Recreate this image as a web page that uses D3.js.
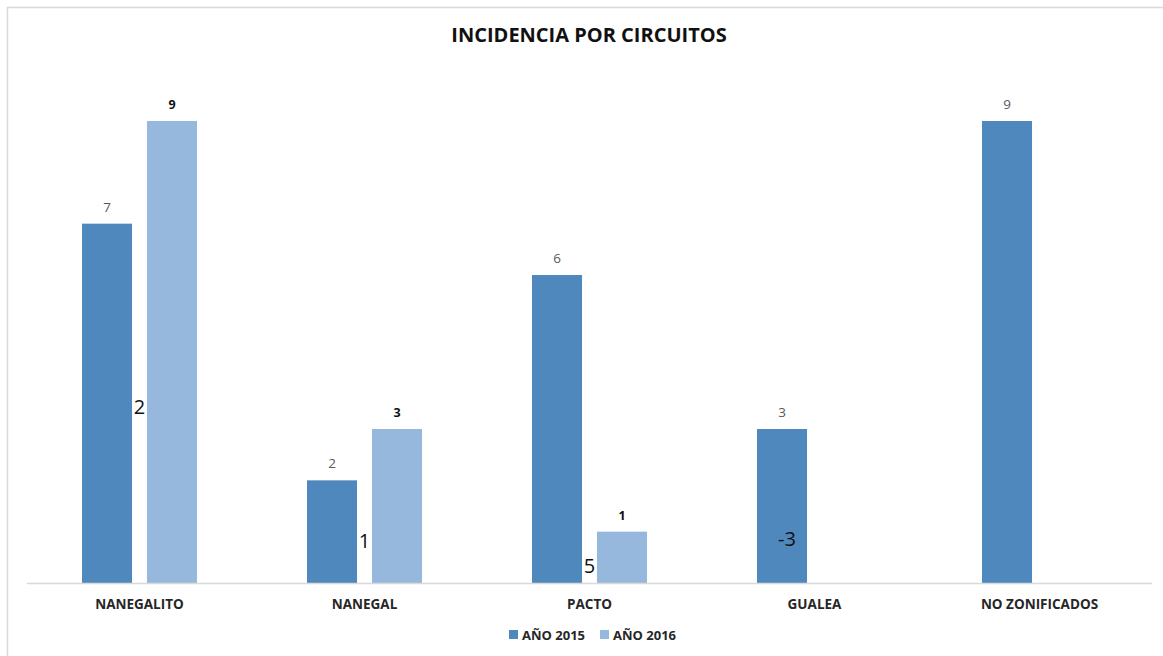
<!DOCTYPE html>
<html>
<head>
<meta charset="utf-8">
<script src="https://cdn.jsdelivr.net/npm/d3@7"></script>
<style>
  body { margin: 0; background: #fff; }
  svg { display: block; font-family: "Open Sans", "Liberation Sans", sans-serif; }
</style>
</head>
<body>
<svg id="chart"></svg>
<script>
// data
var categories = ['NANEGALITO', 'NANEGAL', 'PACTO', 'GUALEA', 'NO ZONIFICADOS'];
var series = ['AÑO 2015', 'AÑO 2016'];
var values2015 = [7, 2, 6, 3, 9];
var values2016 = [9, 3, 1, null, null];
// stray text boxes left on the chart (category, series, height, text)
var strayCats = ['NANEGALITO', 'NANEGAL', 'PACTO', 'GUALEA'];
var straySeries = [null, null, null, 'AÑO 2015'];
var strayValues = [3.3, 0.68, 0.2, 0.72];
var strayTexts = ['2', '1', '5', '-3'];

var W = 1163, H = 656;
var margin = {top: 121, right: 11, bottom: 73, left: 27};
var width = W - margin.left - margin.right,
    height = H - margin.top - margin.bottom;

var colors = {'AÑO 2015': '#4f88bc', 'AÑO 2016': '#97b8dd'};

var svg = d3.select('#chart').attr('width', W).attr('height', H);

// chart border
svg.append('path')
    .attr('d', 'M7.5,' + H + 'V7.5H' + W)
    .attr('fill', 'none')
    .attr('stroke', '#d9d9d9')
    .attr('stroke-width', 1.5);

svg.append('text')
    .attr('x', 589).attr('y', 42)
    .attr('text-anchor', 'middle')
    .attr('font-size', 20).attr('font-weight', 'bold')
    .attr('fill', '#111')
    .text('INCIDENCIA POR CIRCUITOS');

var g = svg.append('g').attr('transform', 'translate(' + margin.left + ',' + margin.top + ')');

var x = d3.scaleBand().domain(categories).range([0, width]).paddingInner(0).paddingOuter(0);
var xs = d3.scaleBand().domain(series).range([x.bandwidth() / 2 - 57.5, x.bandwidth() / 2 + 57.5]).paddingInner(0.23);
var y = d3.scaleLinear().domain([0, 9]).range([height, 0]);

var rows = [];
categories.forEach(function(c, i) {
  rows.push({cat: c, s: 'AÑO 2015', v: values2015[i]});
  rows.push({cat: c, s: 'AÑO 2016', v: values2016[i]});
});
rows = rows.filter(function(d) { return d.v != null; });

g.selectAll('rect.bar')
    .data(rows).enter().append('rect')
    .attr('class', 'bar')
    .attr('x', function(d) { return x(d.cat) + xs(d.s); })
    .attr('y', function(d) { return y(d.v); })
    .attr('width', xs.bandwidth())
    .attr('height', function(d) { return y(0) - y(d.v); })
    .attr('fill', function(d) { return colors[d.s]; });

// value labels
g.selectAll('text.lbl')
    .data(rows).enter().append('text')
    .attr('class', 'lbl')
    .attr('x', function(d) { return x(d.cat) + xs(d.s) + xs.bandwidth() / 2; })
    .attr('y', function(d) { return y(d.v) - 12; })
    .attr('text-anchor', 'middle')
    .attr('font-size', function(d) { return d.s == 'AÑO 2015' ? 13.5 : 12.5; })
    .attr('font-weight', function(d) { return d.s == 'AÑO 2015' ? 'normal' : 'bold'; })
    .attr('fill', function(d) { return d.s == 'AÑO 2015' ? '#595959' : '#111'; })
    .text(function(d) { return d.v; });

// stray labels
g.selectAll('text.stray')
    .data(strayTexts).enter().append('text')
    .attr('class', 'stray')
    .attr('x', function(d, i) {
      var c = x(strayCats[i]);
      return straySeries[i] ? c + xs(straySeries[i]) + xs.bandwidth() / 2 + 5 : c + x.bandwidth() / 2;
    })
    .attr('y', function(d, i) { return y(strayValues[i]); })
    .attr('text-anchor', 'middle')
    .attr('font-size', 20)
    .attr('fill', '#111')
    .text(function(d) { return d; });

// axis
g.append('line')
    .attr('x1', 0).attr('x2', width)
    .attr('y1', height + 0.5).attr('y2', height + 0.5)
    .attr('stroke', '#d9d9d9').attr('stroke-width', 1.5);

g.selectAll('text.cat')
    .data(categories).enter().append('text')
    .attr('class', 'cat')
    .attr('x', function(d) { return x(d) + x.bandwidth() / 2; })
    .attr('y', height + 26)
    .attr('text-anchor', 'middle')
    .attr('font-size', 13.5).attr('font-weight', 'bold')
    .attr('fill', '#262626')
    .text(function(d) { return d; });

// legend
var legend = svg.append('g').attr('transform', 'translate(509,630)');
var lx = [0, 91];
series.forEach(function(s, i) {
  var it = legend.append('g').attr('transform', 'translate(' + lx[i] + ',0)');
  it.append('rect').attr('width', 9).attr('height', 9).attr('y', 0).attr('fill', colors[s]);
  it.append('text').attr('x', 13).attr('y', 10)
      .attr('font-size', 13).attr('font-weight', 'bold').attr('fill', '#262626')
      .text(s);
});
</script>
</body>
</html>
